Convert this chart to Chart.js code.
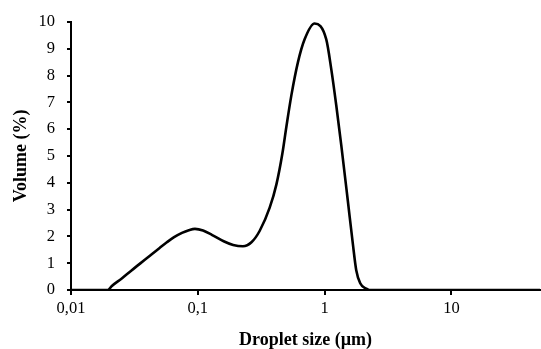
<!DOCTYPE html>
<html>
<head>
<meta charset="utf-8">
<script src="https://cdn.jsdelivr.net/npm/chart.js@4.4.1/dist/chart.umd.min.js"></script>
<style>
  html, body { margin: 0; padding: 0; background: #fff; }
  #wrap { width: 541px; height: 349px; }
</style>
</head>
<body>
<div id="wrap"><canvas id="chart"></canvas></div>
<script>
// droplet size distribution (size in µm, volume in %)
const sizes = [0.01, 0.0195, 0.021, 0.025, 0.03, 0.04, 0.05, 0.057, 0.065, 0.075, 0.085, 0.095,
  0.11, 0.13, 0.16, 0.19, 0.227, 0.265, 0.308, 0.369, 0.417, 0.465, 0.5, 0.547, 0.616, 0.696,
  0.834, 1.031, 1.129, 1.236, 1.353, 1.526, 1.671, 1.777, 1.91, 2.13, 2.25, 50]
const volumes = [0, 0, 0.15, 0.42, 0.73, 1.2, 1.57, 1.78, 1.97, 2.13, 2.23, 2.28,
  2.22, 2.05, 1.82, 1.68, 1.63, 1.78, 2.21, 3.07, 3.94, 5.1, 6.1, 7.26, 8.49, 9.35,
  9.94, 9.35, 8.24, 6.89, 5.41, 3.32, 1.72, 0.74, 0.25, 0.05, 0, 0]
const xTicks = [0.01, 0.1, 1, 10]
const xTickLabels = ['0,01', '0,1', '1', '10']

const FONT = "'Liberation Serif', 'Times New Roman', serif"

new Chart(document.getElementById('chart'), {
  type: 'line',
  data: {
    datasets: [{
      data: sizes.map((s, i) => ({ x: s, y: volumes[i] })),
      borderColor: '#000',
      borderWidth: 2.6,
      pointRadius: 0,
      cubicInterpolationMode: 'monotone',
      fill: false
    }]
  },
  options: {
    responsive: true,
    maintainAspectRatio: false,
    animation: false,
    layout: { padding: { top: 6, right: 1, left: 0, bottom: 0 } },
    plugins: { legend: { display: false }, tooltip: { enabled: false } },
    scales: {
      x: {
        type: 'logarithmic',
        min: 0.01,
        max: 50,
        afterBuildTicks: (axis) => {
          axis.ticks = xTicks.map(v => ({ value: v }))
        },
        afterFit: (axis) => { axis.height = 59 },
        ticks: {
          color: '#000',
          font: { family: FONT, size: 16.5, lineHeight: 1 },
          padding: 5,
          maxRotation: 0,
          autoSkip: false,
          callback: (value) => {
            const i = xTicks.indexOf(value)
            return i >= 0 ? xTickLabels[i] : ''
          }
        },
        grid: { drawOnChartArea: false, color: '#000', lineWidth: 2, tickLength: 5 },
        border: { color: '#000', width: 2 },
        title: {
          display: true,
          text: 'Droplet size (µm)',
          color: '#000',
          font: { family: FONT, size: 18, weight: 'bold', lineHeight: 1 },
          padding: { top: 0, bottom: 0 }
        }
      },
      y: {
        min: 0,
        max: 10,
        afterFit: (axis) => { axis.width = 71 },
        ticks: {
          stepSize: 1,
          color: '#000',
          font: { family: FONT, size: 16.5 },
          padding: 12
        },
        grid: { drawOnChartArea: false, color: '#000', lineWidth: 2, tickLength: 4 },
        border: { color: '#000', width: 2 },
        title: {
          display: true,
          text: 'Volume (%)',
          color: '#000',
          font: { family: FONT, size: 18, weight: 'bold', lineHeight: 1.2 },
          padding: { top: 11, bottom: 0 }
        }
      }
    }
  }
})
</script>
</body>
</html>
